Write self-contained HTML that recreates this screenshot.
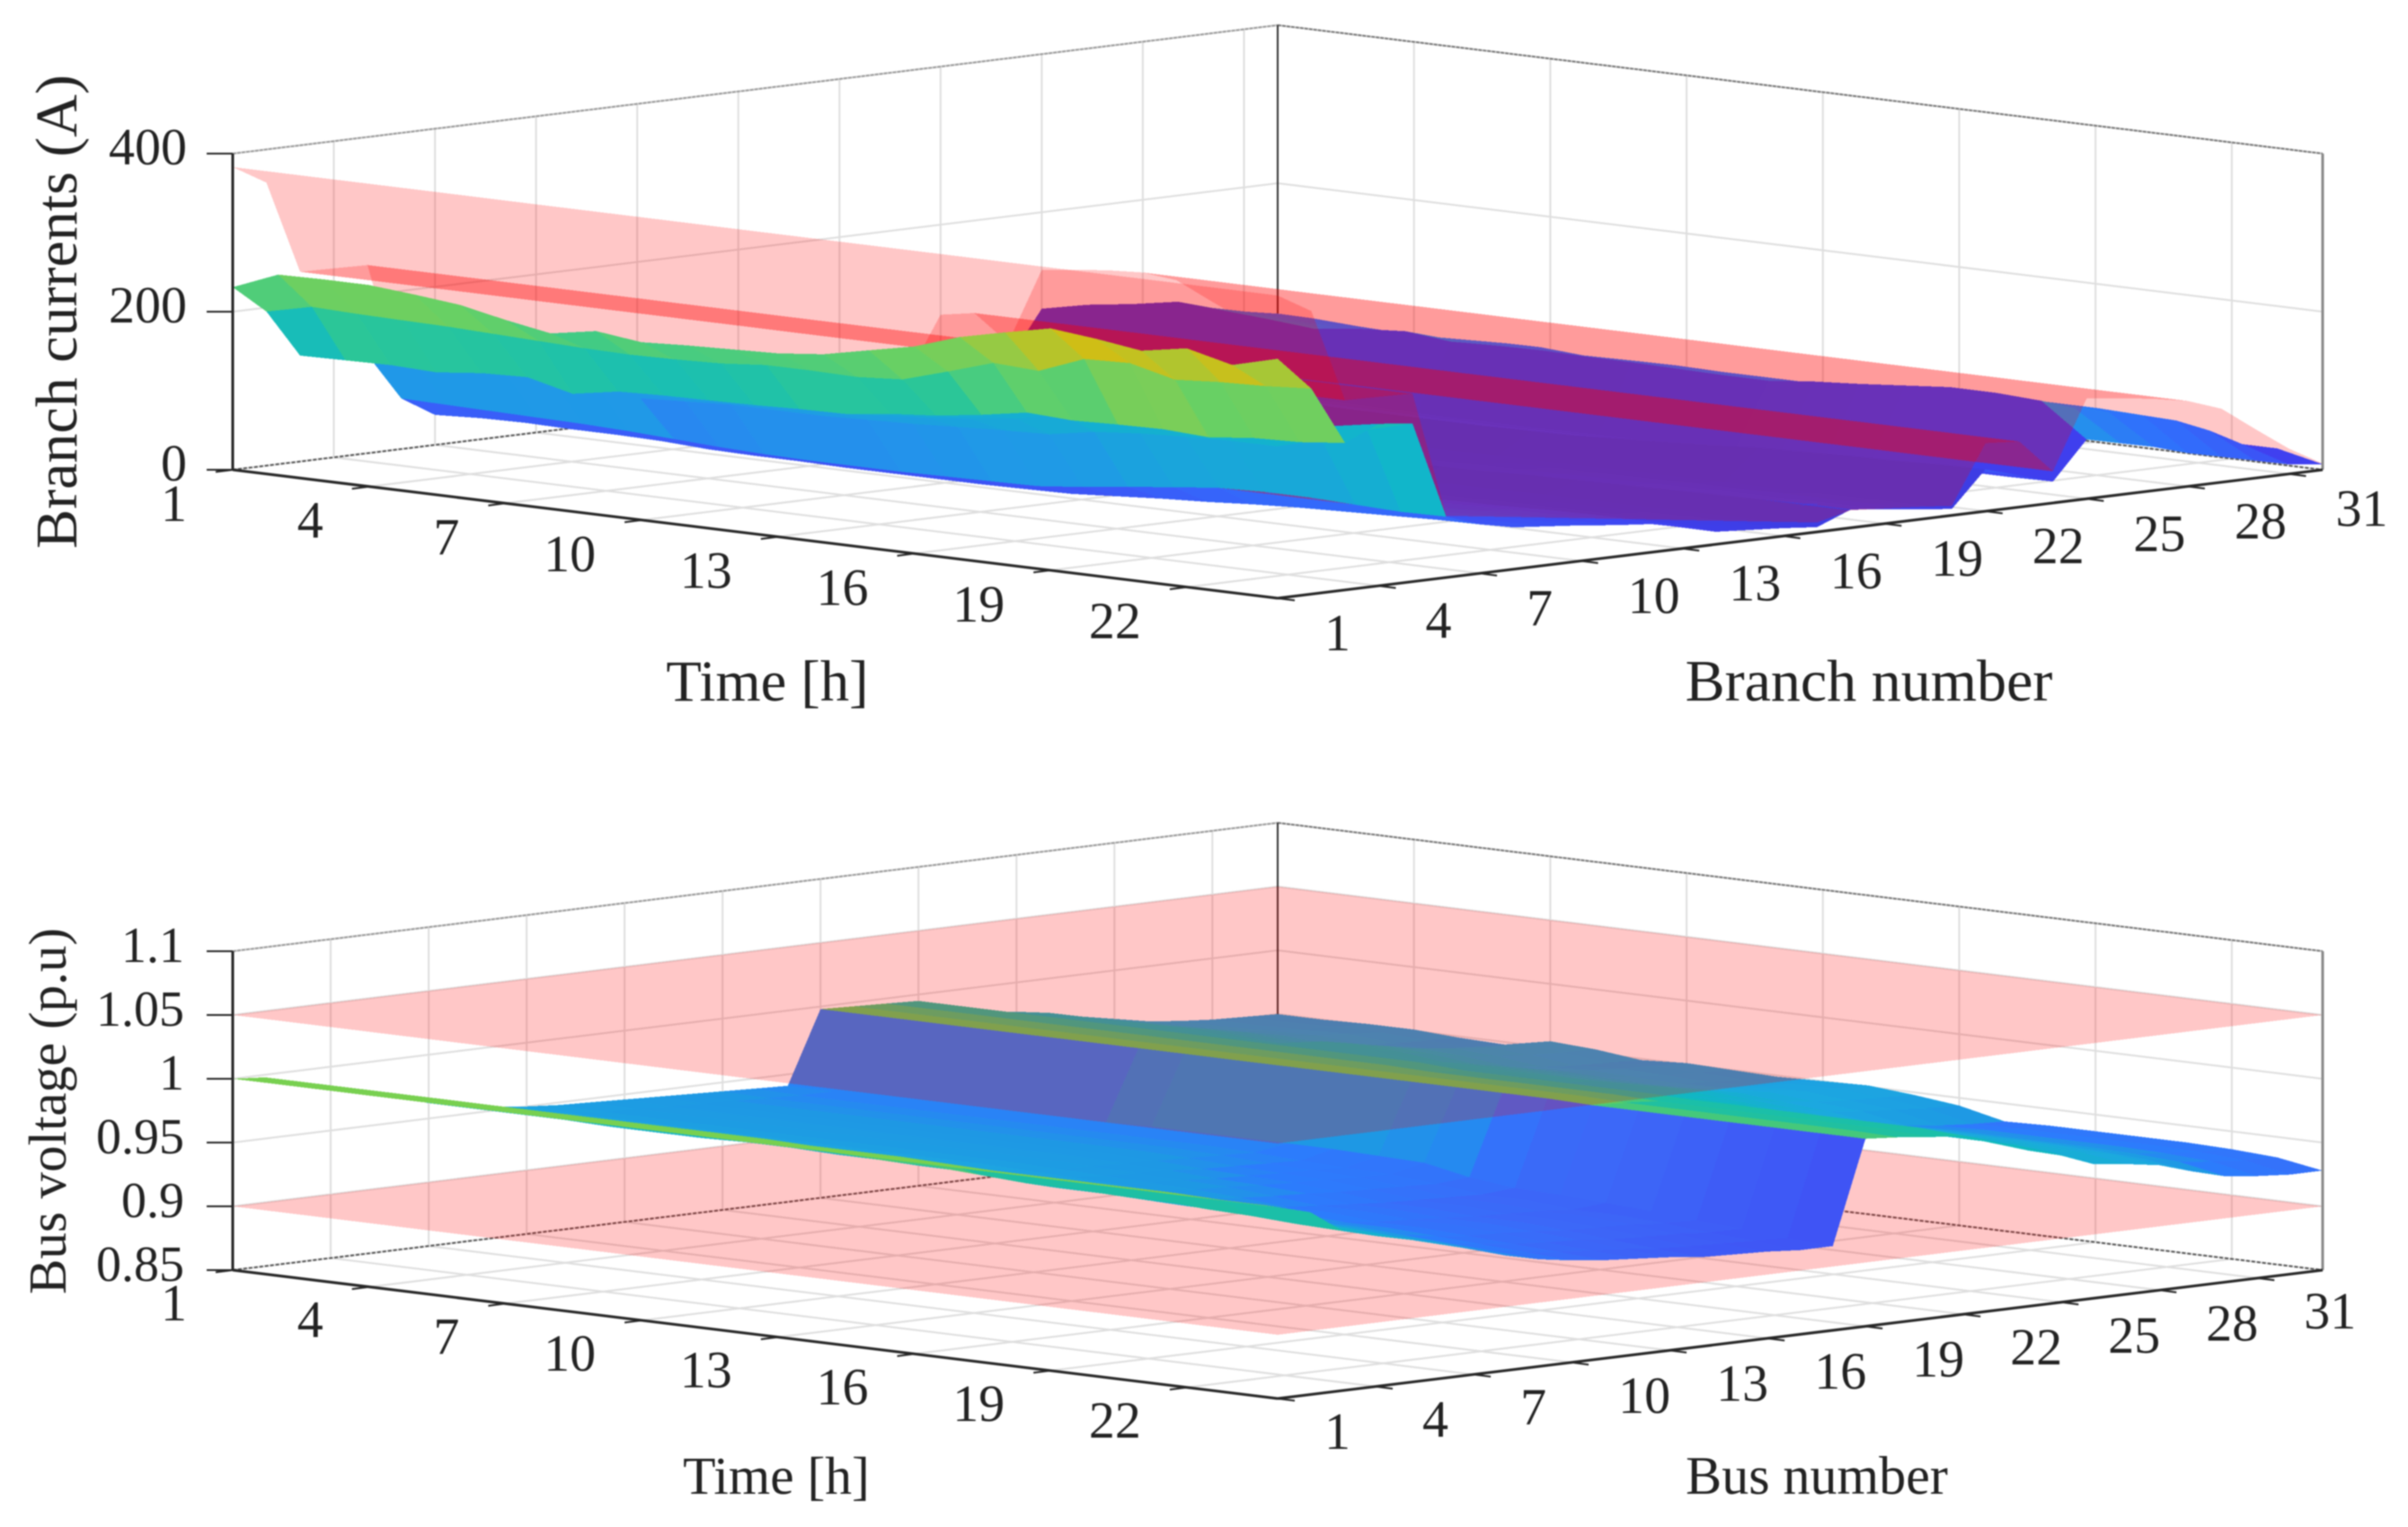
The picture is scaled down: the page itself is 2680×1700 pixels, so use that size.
<!DOCTYPE html>
<html lang="en">
<head>
<meta charset="utf-8">
<title>Branch currents and bus voltage surfaces</title>
<style>
html,body{margin:0;padding:0;background:#fff;}
svg{display:block;filter:blur(0.8px);}
text{font-family:"Liberation Serif",serif;fill:#222;}
.facet{shape-rendering:crispEdges;}
</style>
</head>
<body>
<svg id="figure" width="2680" height="1700" viewBox="0 0 2680 1700" xmlns="http://www.w3.org/2000/svg">
<rect width="2680" height="1700" fill="#fff"/>
<g id="top-plot"></g>
<g id="bottom-plot"></g>
<text x="854" y="780" font-size="64.5" text-anchor="middle">Time [h]</text>
<text x="2080" y="780" font-size="66" text-anchor="middle">Branch number</text>
<text transform="translate(85,347) rotate(-90)" font-size="66" text-anchor="middle">Branch currents (A)</text>
<text x="864" y="1663" font-size="59.5" text-anchor="middle">Time [h]</text>
<text x="2022" y="1663" font-size="60" text-anchor="middle">Bus number</text>
<text transform="translate(73,1237) rotate(-90)" font-size="59" text-anchor="middle">Bus voltage (p.u)</text>
</svg>
<script>
const timeTicks = [1,4,7,10,13,16,19,22];
const branchTicks = [1,4,7,10,13,16,19,22,25,28,31];
const busTicks = [1,4,7,10,13,16,19,22,25,28,31];
const currentTicks = [0,200,400];
const voltageTicks = [0.85,0.9,0.95,1,1.05,1.1];
const voltageLimits = [0.9,1.05];
const branchLimit = [383,358,240,239,238,78,72,66,60,54,48,42,36,30,24,18,12,22,19,16,12,86,83,40,127,122,116,108,93,62,32,8];
const branchCurrents = [
[231,195,134,130,124,64,38,33,30,28,25,22,19,10,8,6,4,14,11,8,5,33,25,17,78,69,62,55,48,35,20,13],
[254,208,135,132,126,63,41,35,32,30,26,24,20,11,9,7,4,15,12,9,5,35,26,18,90,79,71,64,55,41,23,15],
[255,206,136,132,126,62,42,36,33,31,27,24,20,11,9,7,4,16,12,9,5,36,27,18,98,86,77,70,60,44,25,17],
[255,205,134,130,125,61,41,35,32,30,26,24,20,11,9,7,4,15,12,9,5,35,26,18,108,95,85,77,66,49,28,18],
[250,204,140,132,126,60,41,35,32,30,26,24,20,11,9,7,4,15,12,9,5,35,26,18,104,92,82,74,63,47,27,18],
[244,202,142,135,125,58,40,34,31,29,26,23,19,10,8,6,4,15,12,8,5,34,26,17,100,88,79,71,61,45,26,17],
[232,200,128,125,112,55,37,32,29,27,24,22,18,10,8,6,4,14,11,8,5,32,24,16,95,84,75,67,58,43,25,16],
[222,198,138,130,115,52,36,31,28,26,23,21,17,9,8,6,3,13,10,8,5,31,23,16,102,90,81,72,62,46,27,17],
[232,197,140,132,118,50,36,31,28,26,23,21,17,9,8,6,3,13,10,8,5,31,23,16,106,93,84,75,65,48,28,18],
[225,198,141,132,118,49,35,30,28,26,23,21,17,9,7,6,3,13,10,7,5,30,23,15,100,88,79,71,61,45,26,17],
[228,200,142,133,118,49,35,30,27,25,22,20,17,9,7,6,3,13,10,7,4,30,22,15,102,90,81,72,62,46,27,17],
[230,205,144,135,120,49,35,30,27,25,22,20,17,9,7,6,3,13,10,7,4,30,22,15,103,91,81,73,63,46,27,18],
[232,205,145,137,122,50,35,30,27,25,22,20,17,9,7,6,3,13,10,7,4,30,22,15,102,90,81,72,62,46,27,17],
[238,204,152,142,125,51,36,31,28,26,23,21,17,9,8,6,3,13,10,8,5,31,23,16,102,90,81,72,62,46,27,17],
[250,208,157,148,128,52,37,32,29,27,24,22,18,10,8,6,4,14,11,8,5,32,24,16,101,89,80,72,62,45,26,17],
[262,225,165,155,130,58,41,35,32,30,26,24,20,11,9,7,4,15,12,9,5,35,26,18,100,88,79,71,61,45,26,17],
[281,243,175,168,140,65,45,38,35,32,29,26,22,12,9,7,4,17,13,9,6,38,29,19,100,88,79,71,61,45,26,17],
[294,240,172,170,145,72,48,41,38,35,31,28,23,12,10,8,5,18,14,10,6,41,31,21,106,93,84,75,65,48,28,18],
[306,262,174,172,148,78,52,45,41,38,34,30,25,13,11,8,5,19,15,11,7,45,34,23,110,97,87,78,67,50,29,19],
[300,264,175,175,150,80,55,47,43,40,35,32,26,14,11,9,5,20,16,11,7,47,35,24,115,101,91,82,70,52,30,20],
[292,250,172,178,150,80,57,49,45,41,37,33,28,15,12,9,6,21,17,12,7,49,37,25,120,106,95,85,73,54,31,20],
[302,254,178,185,165,78,59,50,47,43,38,34,29,15,12,10,6,22,17,12,8,50,38,26,120,106,95,85,73,54,31,20],
[288,256,180,195,185,76,61,52,48,44,39,35,29,16,13,10,6,23,18,13,8,52,39,26,117,102,92,83,71,53,30,20],
[303,260,186,205,200,77,62,53,49,45,40,36,30,16,13,10,6,23,18,13,8,53,40,27,75,65,55,42,32,22,12,7]
];
const busVoltages = [
[1,.998,.989,.982,.976,.970,.962,.957,.953,.950,.948,.947,.946,.945,.944,.943,.942,.941,.998,.997,.996,.995,.985,.980,.977,.973,.967,.962,.957,.954,.952,.951,.950],
[1,.998,.989,.982,.976,.970,.962,.956,.952,.949,.947,.946,.945,.944,.943,.942,.941,.941,.998,.997,.996,.995,.985,.980,.977,.973,.967,.962,.957,.954,.952,.951,.950],
[1,.998,.989,.982,.976,.970,.962,.956,.952,.949,.947,.946,.945,.944,.943,.942,.941,.941,.998,.997,.996,.995,.985,.980,.977,.974,.968,.963,.958,.955,.953,.952,.951],
[1,.998,.989,.982,.976,.970,.962,.956,.952,.949,.947,.946,.945,.944,.943,.942,.941,.941,.998,.997,.996,.995,.985,.980,.977,.974,.969,.964,.959,.956,.954,.952,.951],
[1,.998,.988,.981,.975,.969,.961,.956,.952,.949,.947,.946,.945,.944,.943,.942,.941,.941,.998,.997,.996,.995,.985,.980,.977,.972,.966,.961,.956,.953,.951,.950,.949],
[1,.998,.988,.981,.975,.969,.961,.956,.952,.949,.947,.946,.945,.944,.943,.942,.941,.941,.998,.997,.996,.995,.985,.980,.977,.971,.965,.960,.955,.952,.950,.949,.948],
[1,.998,.988,.981,.975,.969,.961,.956,.952,.949,.947,.946,.945,.944,.943,.942,.941,.941,.998,.997,.996,.995,.985,.980,.977,.977,.972,.967,.962,.959,.957,.956,.955],
[1,.998,.989,.982,.976,.970,.962,.956,.952,.949,.947,.946,.945,.944,.943,.942,.941,.943,.998,.997,.996,.995,.985,.980,.977,.975,.970,.965,.960,.957,.955,.954,.953],
[1,.998,.989,.982,.976,.970,.962,.956,.952,.949,.947,.946,.945,.944,.943,.942,.941,.944,.998,.997,.996,.995,.985,.980,.977,.971,.966,.961,.956,.953,.951,.950,.949],
[1,.998,.988,.981,.975,.969,.961,.956,.952,.949,.947,.946,.945,.944,.943,.942,.941,.944,.998,.997,.996,.995,.985,.980,.977,.973,.968,.963,.958,.955,.953,.952,.951],
[1,.998,.988,.981,.975,.969,.961,.956,.952,.949,.947,.946,.945,.944,.943,.942,.941,.944,.998,.997,.996,.995,.985,.980,.977,.972,.967,.962,.957,.954,.952,.951,.950],
[1,.998,.988,.981,.975,.969,.961,.956,.951,.948,.946,.945,.944,.943,.942,.941,.940,.944,.998,.997,.996,.995,.985,.980,.977,.972,.966,.961,.956,.953,.951,.950,.949],
[1,.997,.987,.980,.974,.968,.960,.954,.950,.947,.945,.944,.943,.941,.940,.939,.938,.944,.998,.997,.995,.993,.984,.978,.974,.972,.967,.962,.957,.954,.952,.951,.950],
[1,.997,.986,.979,.973,.967,.959,.954,.949,.946,.944,.943,.941,.940,.939,.938,.937,.943,.998,.997,.995,.993,.984,.978,.974,.973,.968,.963,.958,.955,.953,.952,.951],
[1,.997,.986,.979,.973,.967,.958,.953,.948,.945,.943,.942,.940,.939,.938,.937,.936,.942,.998,.997,.995,.993,.984,.978,.974,.970,.965,.960,.955,.952,.950,.949,.948],
[1,.996,.984,.977,.971,.965,.957,.951,.946,.943,.941,.939,.938,.936,.935,.934,.933,.935,.998,.997,.995,.993,.984,.978,.974,.967,.962,.957,.952,.949,.947,.945,.944],
[1,.995,.982,.975,.969,.963,.955,.948,.943,.940,.938,.936,.934,.932,.931,.930,.929,.931,.998,.997,.995,.993,.984,.978,.974,.961,.957,.952,.947,.942,.939,.937,.936],
[1,.995,.982,.975,.969,.963,.955,.948,.943,.940,.938,.936,.934,.932,.931,.930,.929,.930,.997,.996,.994,.992,.983,.975,.969,.963,.959,.954,.948,.943,.940,.938,.937],
[1,.995,.981,.974,.968,.962,.954,.947,.942,.938,.935,.934,.932,.930,.929,.928,.926,.928,.997,.996,.994,.992,.983,.975,.969,.963,.959,.954,.948,.943,.940,.938,.937],
[1,.995,.981,.974,.968,.962,.954,.947,.942,.938,.935,.934,.932,.930,.929,.928,.926,.926,.997,.996,.994,.992,.983,.975,.969,.963,.959,.954,.948,.943,.940,.938,.937],
[1,.995,.979,.972,.966,.960,.952,.945,.940,.936,.933,.932,.930,.928,.927,.926,.924,.923,.997,.996,.994,.992,.983,.975,.969,.963,.959,.954,.948,.943,.940,.938,.937],
[1,.994,.978,.971,.965,.959,.951,.943,.938,.934,.931,.929,.928,.925,.924,.923,.921,.921,.997,.996,.994,.992,.983,.975,.969,.962,.958,.953,.947,.942,.939,.937,.936],
[1,.994,.976,.969,.963,.957,.949,.942,.936,.932,.929,.927,.925,.922,.921,.920,.919,.918,.997,.996,.994,.992,.983,.975,.969,.961,.957,.952,.945,.940,.937,.935,.934],
[1,.993,.975,.968,.962,.956,.948,.940,.934,.930,.927,.925,.923,.920,.919,.918,.916,.916,.997,.995,.992,.990,.982,.972,.965,.955,.952,.948,.940,.933,.930,.928,.928]
];

const currentColorStops = [[0,'#3c3ce0'],[30,'#4040f0'],[60,'#3a5cf8'],[90,'#3070fc'],[112,'#2888f0'],[124,'#2098e8'],[150,'#18a8d8'],[190,'#10b8c8'],[200,'#20c2a8'],[212,'#30c890'],[225,'#48cc80'],[250,'#68d064'],[275,'#88cc50'],[295,'#b8c428'],[310,'#d8bc10']];
const voltageColorStops = [[0.9155,'#4050f4'],[0.93,'#3c68f8'],[0.94,'#2c7cfc'],[0.944,'#1e98e4'],[0.955,'#1ca8e0'],[0.975,'#10b8c0'],[0.99,'#10bcb8'],[0.996,'#20c0a0'],[0.9975,'#58cc68'],[1,'#78d050']];

const SVG_NS = 'http://www.w3.org/2000/svg';

function hexToRgb(h){ return [parseInt(h.slice(1,3),16),parseInt(h.slice(3,5),16),parseInt(h.slice(5,7),16)]; }
function colorFor(stops, v){
  if (v <= stops[0][0]) return stops[0][1];
  for (let i = 1; i < stops.length; i++) {
    if (v <= stops[i][0]) {
      const f = (v - stops[i-1][0]) / (stops[i][0] - stops[i-1][0]);
      const a = hexToRgb(stops[i-1][1]), c = hexToRgb(stops[i][1]);
      return 'rgb(' + a.map((x,k) => Math.round(x + f*(c[k]-x))).join(',') + ')';
    }
  }
  return stops[stops.length-1][1];
}
function makeAxes(o){
  const sx = o.spanX, sy = o.spanY;
  const tx = sx/(o.tMax-o.tMin), ty = sy/(o.tMax-o.tMin);
  const bx = sx/(o.bMax-o.bMin), by = sy/(o.bMax-o.bMin);
  const zs = o.spanZ/(o.zMax-o.zMin);
  o.px = (t,b) => o.x0 + (t-o.tMin)*tx + (b-o.bMin)*bx;
  o.py = (t,b,z) => o.y0 + (t-o.tMin)*ty - (b-o.bMin)*by - (z-o.zMin)*zs;
  o.pt = (t,b,z) => [o.px(t,b), o.py(t,b,z)];
  return o;
}
function ptsAttr(list){ return list.map(p => p[0].toFixed(1)+','+p[1].toFixed(1)).join(' '); }

function addLine(layer, p, q, stroke, width, name, dash){
  const el = document.createElementNS(SVG_NS,'line');
  el.setAttribute('x1',p[0].toFixed(1));
  el.setAttribute('y1',p[1].toFixed(1));
  el.setAttribute('x2',q[0].toFixed(1));
  el.setAttribute('y2',q[1].toFixed(1));
  el.setAttribute('stroke',stroke);
  el.setAttribute('stroke-width',width);
  if (dash) el.setAttribute('stroke-dasharray',dash);
  
  
  layer.appendChild(el);
}
function addFacet(layer, corners, fill, opacity, name){
  const el = document.createElementNS(SVG_NS,'polygon');
  el.setAttribute('points',ptsAttr(corners));
  el.setAttribute('fill',fill);
  if (opacity < 1) el.setAttribute('fill-opacity',opacity);
  el.setAttribute('class','facet');
  
  
  layer.appendChild(el);
}
function addLabel(layer, x, y, str, size, anchor, name){
  const el = document.createElementNS(SVG_NS,'text');
  el.setAttribute('x',x.toFixed(1));
  el.setAttribute('y',y.toFixed(1));
  el.setAttribute('font-size',size);
  el.setAttribute('text-anchor',anchor);
  
  
  el.textContent = str;
  layer.appendChild(el);
}
function quadArea(c){
  let s = 0;
  for (let i = 0; i < c.length; i++) {
    const p = c[i], q = c[(i+1)%c.length];
    s += p[0]*q[1] - q[0]*p[1];
  }
  return s/2;
}

function drawFrame(layer, ax, tTicks, bTicks, zTicks){
  const T0=ax.tMin,T1=ax.tMax,B0=ax.bMin,B1=ax.bMax,Z0=ax.zMin,Z1=ax.zMax;
  const grid='#dedede';
  tTicks.forEach(t => {
    addLine(layer, ax.pt(t,B0,Z0), ax.pt(t,B1,Z0), grid, 2, 'floor-grid-line-time');
    addLine(layer, ax.pt(t,B1,Z0), ax.pt(t,B1,Z1), grid, 2, 'wall-grid-line-time');
  });
  bTicks.forEach(b => {
    addLine(layer, ax.pt(T0,b,Z0), ax.pt(T1,b,Z0), grid, 2, 'floor-grid-line-index');
    addLine(layer, ax.pt(T0,b,Z0), ax.pt(T0,b,Z1), grid, 2, 'wall-grid-line-index');
  });
  zTicks.forEach(z => {
    addLine(layer, ax.pt(T0,B0,z), ax.pt(T0,B1,z), grid, 2, 'wall-grid-line-value');
    addLine(layer, ax.pt(T0,B1,z), ax.pt(T1,B1,z), grid, 2, 'wall-grid-line-value');
  });
  addLine(layer, ax.pt(T0,B0,Z0), ax.pt(T0,B1,Z0), '#555', 2, 'back-floor-edge', '4 2');
  addLine(layer, ax.pt(T0,B1,Z0), ax.pt(T1,B1,Z0), '#555', 2, 'back-floor-edge', '4 2');
  addLine(layer, ax.pt(T0,B0,Z1), ax.pt(T0,B1,Z1), '#999', 2, 'top-box-edge', '4 1');
  addLine(layer, ax.pt(T0,B1,Z1), ax.pt(T1,B1,Z1), '#777', 2, 'top-box-edge', '4 1');
  addLine(layer, ax.pt(T0,B1,Z0), ax.pt(T0,B1,Z1), '#333', 2, 'back-vertical-edge');
}
function drawFront(layer, ax, tTicks, bTicks, zTicks, zLabels, yLabelX, tDy, bDy, bTickX, size, zSize, indexName){
  const T0=ax.tMin,T1=ax.tMax,B0=ax.bMin,B1=ax.bMax,Z0=ax.zMin,Z1=ax.zMax;
  const ink='#262626';
  addLine(layer, ax.pt(T1,B1,Z0), ax.pt(T1,B1,Z1), '#8a8a8a', 3, 'right-vertical-edge');
  addLine(layer, ax.pt(T0,B0,Z0), ax.pt(T0,B0,Z1), ink, 3, 'value-axis-line');
  addLine(layer, ax.pt(T0,B0,Z0), ax.pt(T1,B0,Z0), ink, 3, 'time-axis-line');
  addLine(layer, ax.pt(T1,B0,Z0), ax.pt(T1,B1,Z0), ink, 3, indexName + '-axis-line');
  tTicks.forEach(t => {
    const p = ax.pt(t,B0,Z0);
    addLine(layer, p, [p[0]-19,p[1]+2.4], ink, 2, 'time-tick');
    addLabel(layer, p[0]-51, p[1]+tDy, String(t), size, 'end', 'time-tick-label');
  });
  bTicks.forEach(b => {
    const p = ax.pt(T1,b,Z0);
    addLine(layer, p, [p[0]+19,p[1]+2.4], ink, 2, indexName + '-tick');
    addLabel(layer, p[0]+bTickX, p[1]+bDy, String(b), size, 'start', indexName + '-tick-label');
  });
  zTicks.forEach((z,i) => {
    const p = ax.pt(T0,B0,z);
    addLine(layer, p, [p[0]-29,p[1]], ink, 2, 'value-tick');
    addLabel(layer, yLabelX, p[1]+12, zLabels[i], zSize, 'end', 'value-tick-label');
  });
}

const topAxes = makeAxes({tMin:1,tMax:24,bMin:1,bMax:32,zMin:0,zMax:400,x0:259,y0:523,spanX:1163,spanY:143,spanZ:352});
const bottomAxes = makeAxes({tMin:1,tMax:24,bMin:1,bMax:33,zMin:0.85,zMax:1.1,x0:259,y0:1414,spanX:1163,spanY:143,spanZ:355});

function cellCorners(ax, zFn, t, b){
  return [ax.pt(t,b,zFn(t,b)), ax.pt(t,b+1,zFn(t,b+1)), ax.pt(t+1,b+1,zFn(t+1,b+1)), ax.pt(t+1,b,zFn(t+1,b))];
}
const currentAt = (t,b) => branchCurrents[t-1][b-1];
const limitAt = (t,b) => branchLimit[b-1];
const voltageAt = (t,b) => busVoltages[t-1][b-1];

(function drawTop(){
  const layer = document.getElementById('top-plot');
  const ax = topAxes;
  drawFrame(layer, ax, timeTicks, branchTicks, currentTicks);
  for (let t = 1; t < ax.tMax; t++) {
    for (let b = ax.bMax-1; b >= 1; b--) {
      const cur = cellCorners(ax, currentAt, t, b);
      const lim = cellCorners(ax, limitAt, t, b);
      const curFill = colorFor(currentColorStops, currentAt(t,b));
      if (quadArea(lim) < 0) {
        addFacet(layer, lim, '#ff0000', 0.22, 'limit-facet');
        addFacet(layer, cur, curFill, 1, 'current-facet');
      } else {
        addFacet(layer, cur, curFill, 1, 'current-facet');
        addFacet(layer, lim, '#ff0000', 0.22, 'limit-facet');
      }
    }
  }
  drawFront(layer, ax, timeTicks, branchTicks, currentTicks, currentTicks.map(String), 208, 57, 58, 52, 58, 58, 'branch');
})();

(function drawBottom(){
  const layer = document.getElementById('bottom-plot');
  const ax = bottomAxes;
  drawFrame(layer, ax, timeTicks, busTicks, voltageTicks);
  const plane = z => [ax.pt(ax.tMin,ax.bMin,z), ax.pt(ax.tMin,ax.bMax,z), ax.pt(ax.tMax,ax.bMax,z), ax.pt(ax.tMax,ax.bMin,z)];
  addFacet(layer, plane(voltageLimits[0]), '#ff0000', 0.22, 'lower-voltage-limit-plane');
  for (let t = 1; t < ax.tMax; t++) {
    for (let b = ax.bMax-1; b >= 1; b--) {
      addFacet(layer, cellCorners(ax, voltageAt, t, b), colorFor(voltageColorStops, voltageAt(t,b)), 1, 'voltage-facet');
    }
  }
  addFacet(layer, plane(voltageLimits[1]), '#ff0000', 0.22, 'upper-voltage-limit-plane');
  drawFront(layer, ax, timeTicks, busTicks, voltageTicks, ['0.85','0.9','0.95','1','1.05','1.1'], 205, 56, 56, 52, 58, 56, 'bus');
})();
</script>
</body>
</html>
